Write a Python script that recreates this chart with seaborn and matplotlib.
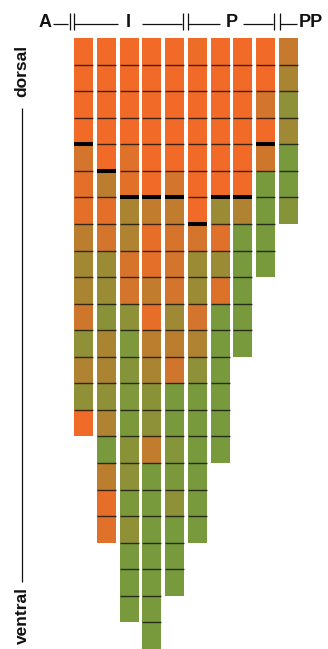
import numpy as np
import pandas as pd
import seaborn as sns
import matplotlib
matplotlib.use("Agg")
import matplotlib.pyplot as plt
from matplotlib.colors import LinearSegmentedColormap

# Shade of every cell, listed from the dorsal end downwards.
# 0 = orange, 1 = green, values between blend the two.
col_01 = [0, 0, 0, 0, 0.25, 0.12, 0.12, 0.45, 0.65, 0.6, 0.3, 0.8, 0.55, 0.8, 0.02]
col_02 = [0, 0, 0, 0, 0, 0.45, 0.12, 0.25, 0.7, 0.72, 0.85, 0.6, 0.58, 0.8, 0.55,
          1.0, 0.45, 0.1, 0.15]
col_03 = [0, 0, 0, 0, 0.15, 0.13, 0.58, 0.55, 0.22, 0.25, 0.82, 0.95, 0.88, 0.95,
          0.97, 0.85, 0.82, 0.97, 0.8, 1.0, 1.0, 1.0]
col_04 = [0, 0, 0, 0, 0, 0, 0.4, 0.1, 0.12, 0.4, 0.1, 0.45, 0.6, 0.85, 0.82, 0.4,
          1.0, 1.0, 1.0, 1.0, 1.0, 1.0, 1.0]
col_05 = [0, 0, 0, 0, 0, 0.25, 0.4, 0.22, 0.25, 0.25, 0.68, 0.45, 0.28, 1.0, 1.0,
          0.9, 0.97, 0.82, 1.0, 1.0, 1.0]
col_06 = [0.05, 0, 0, 0, 0, 0, 0, 0.25, 0.7, 0.7, 0.25, 0.55, 0.82, 1.0, 1.0, 1.0,
          1.0, 1.0, 1.0]
col_07 = [0, 0, 0, 0, 0, 0, 0.7, 0.15, 0.7, 0.18, 1.0, 1.0, 1.0, 1.0, 1.0, 1.0]
col_08 = [0, 0, 0, 0, 0, 0, 0.55, 1.0, 1.0, 1.0, 1.0, 1.0]
col_09 = [0, 0, 0.25, 0, 0.3, 1.0, 1.0, 1.0, 1.0]
col_10 = [0.35, 0.6, 0.82, 0.68, 1.0, 1.0, 0.88]

columns = [col_01, col_02, col_03, col_04, col_05,
           col_06, col_07, col_08, col_09, col_10]

# Number of cells above the bold separator in each column (None = no separator)
bold_break = [4, 5, 6, 6, 6, 7, 6, 6, 4, None]

# Header groups and side labels
group_labels = ["A", "I", "P", "PP"]
side_labels = ["dorsal", "ventral"]

# ---- table for the heatmap -------------------------------------------------
n_rows = max(len(c) for c in columns)
n_cols = len(columns)
grid = np.full((n_rows, n_cols), np.nan)
for j, vals in enumerate(columns):
    grid[:len(vals), j] = vals
df = pd.DataFrame(grid, columns=[f"c{j + 1}" for j in range(n_cols)])

W, H = 328, 649
fig = plt.figure(figsize=(W / 100, H / 100), dpi=100)
fig.patch.set_facecolor("white")

top_px, left_px, pitch_px = 38, 74, 22.78
ax = fig.add_axes([left_px / W, 0, n_cols * pitch_px / W, (H - top_px) / H])

cmap = LinearSegmentedColormap.from_list("dv", ["#F26A27", "#B58030", "#789A3C"])
sns.heatmap(df, cmap=cmap, vmin=0, vmax=1, cbar=False, ax=ax,
            xticklabels=False, yticklabels=False, linewidths=0)
ax.axis("off")

# white gutters between the columns
cell_frac = 19 / pitch_px
for j in range(n_cols):
    ax.axvspan(j + cell_frac, j + 1, color="white", lw=0, zorder=3)

# separators between the stacked cells
for j, vals in enumerate(columns):
    for r in range(1, len(vals)):
        if bold_break[j] == r:
            ax.hlines(r, j, j + cell_frac, colors="black", lw=2.9, zorder=5)
        else:
            ax.hlines(r, j, j + cell_frac, colors="#111111", lw=1.0,
                      alpha=0.8, zorder=4)

# ---- header and side annotations, drawn in pixel coordinates ---------------
ov = fig.add_axes([0, 0, 1, 1], facecolor="none")
ov.set_xlim(0, W)
ov.set_ylim(H, 0)
ov.axis("off")

font = dict(family="Liberation Sans", weight="bold", color="#111111")
line_kw = dict(color="#111111", lw=0.9, solid_capstyle="butt")

y_hdr = 24
for (x0, x1) in [(53, 68), (74, 118), (142, 182), (188, 220), (243, 273), (280, 297)]:
    ov.plot([x0, x1], [y_hdr, y_hdr], **line_kw)
for xb in [70, 74, 183, 188, 274, 280]:
    ov.plot([xb, xb], [13, 30], **line_kw)
for lab, xc in zip(group_labels, [45, 128.5, 232, 311]):
    ov.text(xc, 27, lab, ha="center", va="baseline", fontsize=13, **font)

ov.plot([22, 22], [108, 582], **line_kw)
ov.text(22, 71, side_labels[0], rotation=90, ha="center", va="center",
        fontsize=12.5, **font)
ov.text(22, 616, side_labels[1], rotation=90, ha="center", va="center",
        fontsize=12.5, **font)

fig.savefig("out.png", dpi=100, facecolor="white")
